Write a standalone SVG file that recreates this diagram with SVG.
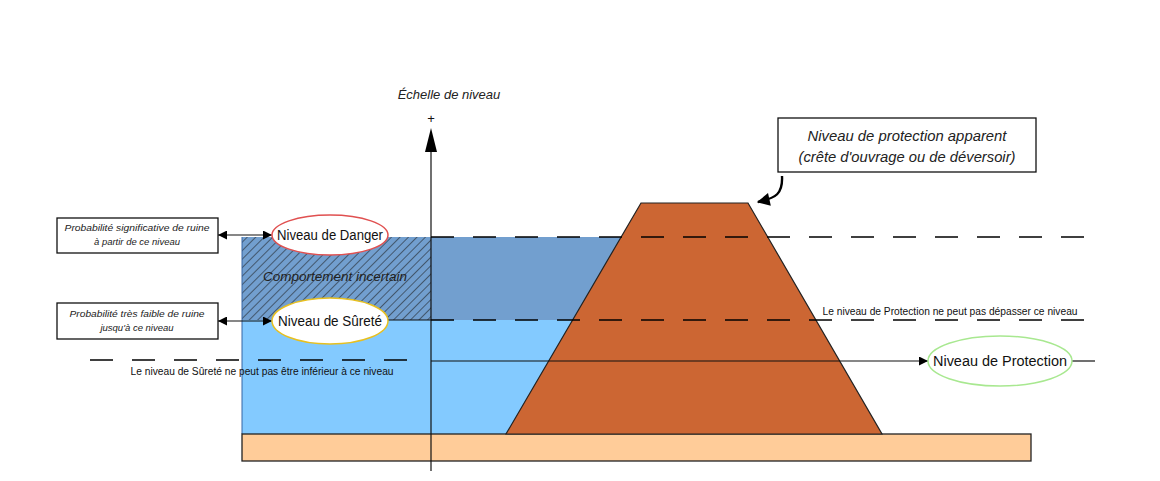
<svg xmlns="http://www.w3.org/2000/svg" width="1160" height="481" viewBox="0 0 1160 481">
<style>
.it{font-family:"Liberation Sans",Arial,sans-serif;font-style:italic;fill:#222}
.rg{font-family:"Liberation Sans",Arial,sans-serif;fill:#111}
.dash{stroke:#000;stroke-width:1.4;stroke-dasharray:23 19;fill:none}
.ln{stroke:#111;stroke-width:1.2;fill:none}
.box{fill:#fff;stroke:#111;stroke-width:1.3}
</style>
<defs>
<pattern id="hatch" width="6" height="6" patternUnits="userSpaceOnUse" patternTransform="rotate(45)">
<line x1="0" y1="0" x2="0" y2="6" stroke="#1a1a1a" stroke-width="1.1"/>
</pattern>
<marker id="ah" viewBox="0 0 10 10" refX="10" refY="5" markerWidth="12" markerHeight="9" markerUnits="userSpaceOnUse" orient="auto-start-reverse">
<path d="M0,0 L10,5 L0,10 Z" fill="#000"/>
</marker>
<marker id="ahb" viewBox="0 0 10 10" refX="9" refY="5" markerWidth="16" markerHeight="13" markerUnits="userSpaceOnUse" orient="auto">
<path d="M0,0 L10,5 L0,10 Z" fill="#000"/>
</marker>
</defs>
<rect width="1160" height="481" fill="#fff"/>

<g id="water">
<rect x="242" y="320" width="400" height="114" fill="#83caff"/>
<rect x="242" y="237" width="400" height="83" fill="#729fcf"/>
<rect x="242" y="237" width="189" height="83" fill="url(#hatch)"/>
<line x1="242" y1="237" x2="242" y2="434" stroke="#3465a4" stroke-width="1"/>
</g>

<g id="base">
<rect x="242" y="434" width="789" height="27" fill="#ffcc99" stroke="#222" stroke-width="1.3"/>
</g>

<g id="dike">
<polygon points="641,203 748,203 882,434 506,434" fill="#cc6633" stroke="#222" stroke-width="1.2"/>
</g>

<g id="connectors">
<line class="ln" x1="431" y1="471" x2="431" y2="150"/>
<polygon points="431,128 437,152 425,152" fill="#000"/>
<line class="dash" x1="431" y1="237" x2="1095" y2="237"/>
<line class="dash" x1="431" y1="320" x2="1095" y2="320"/>
<line class="ln" x1="388" y1="320" x2="431" y2="320"/>
<line class="dash" x1="90" y1="360" x2="412" y2="360"/>
<line class="ln" x1="431" y1="361" x2="928" y2="361" marker-end="url(#ah)"/>
<line class="ln" x1="1072" y1="361" x2="1095" y2="361"/>
<line class="ln" x1="218" y1="235" x2="272" y2="235" marker-start="url(#ah)" marker-end="url(#ah)"/>
<line class="ln" x1="218" y1="321" x2="272" y2="321" marker-start="url(#ah)" marker-end="url(#ah)"/>
<path d="M782,176 C783,194 776,198 758,202" stroke="#000" stroke-width="2.4" fill="none" marker-end="url(#ahb)"/>
</g>

<g id="axis-label">
<text class="it" x="449" y="99" font-size="13" text-anchor="middle">Échelle de niveau</text>
<text class="rg" x="431" y="123" font-size="13" text-anchor="middle">+</text>
</g>

<g id="box-danger">
<rect class="box" x="57" y="218" width="161" height="35"/>
<text class="it" x="137" y="231" font-size="9.5" text-anchor="middle" textLength="145" lengthAdjust="spacingAndGlyphs">Probabilité significative de ruine</text>
<text class="it" x="137" y="245" font-size="9.5" text-anchor="middle">à partir de ce niveau</text>
</g>

<g id="box-surete">
<rect class="box" x="57" y="303" width="161" height="36"/>
<text class="it" x="137" y="317" font-size="9.5" text-anchor="middle" textLength="135" lengthAdjust="spacingAndGlyphs">Probabilité très faible de ruine</text>
<text class="it" x="137" y="331" font-size="9.5" text-anchor="middle">jusqu'à ce niveau</text>
</g>

<g id="ell-danger">
<ellipse cx="330" cy="235" rx="58" ry="20" fill="#fff" stroke="#e05050" stroke-width="1.5"/>
<text class="rg" x="330" y="240" font-size="14" text-anchor="middle" textLength="106" lengthAdjust="spacingAndGlyphs">Niveau de Danger</text>
</g>

<g id="ell-surete">
<ellipse cx="330" cy="321" rx="58" ry="23" fill="#fff" stroke="#e8c020" stroke-width="1.5"/>
<text class="rg" x="330" y="326" font-size="14" text-anchor="middle" textLength="104" lengthAdjust="spacingAndGlyphs">Niveau de Sûreté</text>
</g>

<g id="uncertain">
<text class="it" x="335" y="281" font-size="13.5" text-anchor="middle" textLength="144" lengthAdjust="spacingAndGlyphs">Comportement incertain</text>
</g>

<g id="ell-protection">
<ellipse cx="1000" cy="361" rx="72" ry="25" fill="#fff" stroke="#a8e890" stroke-width="1.5"/>
<text class="rg" x="1000" y="366" font-size="14" text-anchor="middle" textLength="134" lengthAdjust="spacingAndGlyphs">Niveau de Protection</text>
</g>

<g id="callout">
<rect class="box" x="778" y="118" width="258" height="54"/>
<text class="it" x="907" y="141" font-size="14" text-anchor="middle" textLength="199" lengthAdjust="spacingAndGlyphs">Niveau de protection apparent</text>
<text class="it" x="907" y="162" font-size="14" text-anchor="middle" textLength="217" lengthAdjust="spacingAndGlyphs">(crête d'ouvrage ou de déversoir)</text>
</g>

<g id="notes">
<text class="rg" x="262" y="375" font-size="10" text-anchor="middle" textLength="263" lengthAdjust="spacingAndGlyphs">Le niveau de Sûreté ne peut pas être inférieur à ce niveau</text>
<text class="rg" x="950" y="315" font-size="10" text-anchor="middle" textLength="255" lengthAdjust="spacingAndGlyphs">Le niveau de Protection ne peut pas dépasser ce niveau</text>
</g>
</svg>
